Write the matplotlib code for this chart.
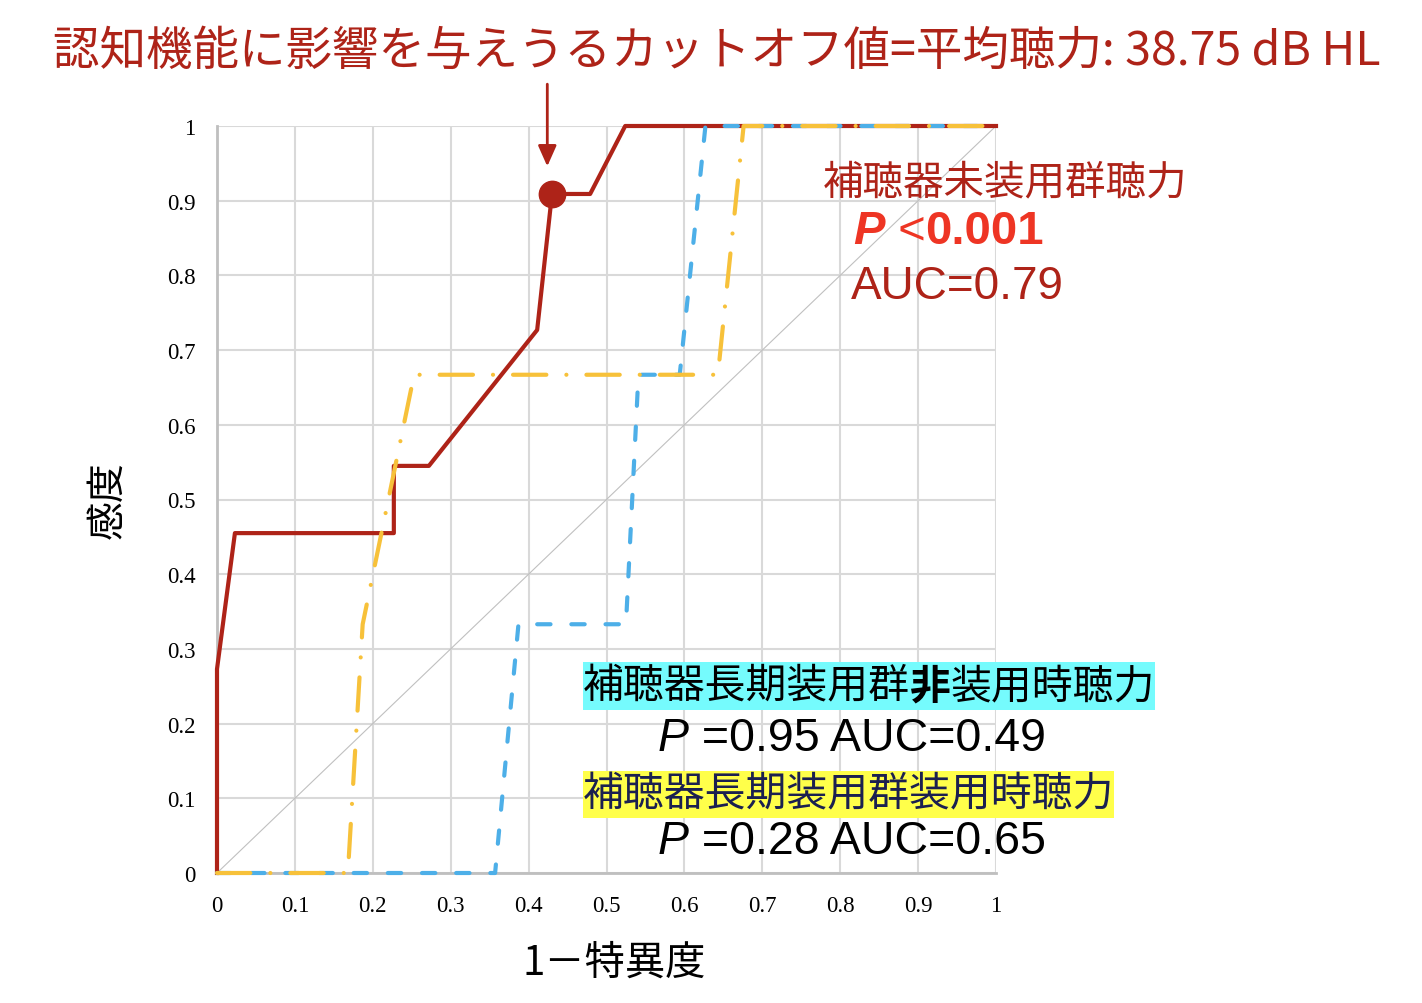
import matplotlib
matplotlib.use("Agg")
import matplotlib.pyplot as plt
from matplotlib.patches import Rectangle

# ROC data (1 - specificity, sensitivity)
fpr_unaided = [0, 0, 0.023, 0.227, 0.227, 0.272, 0.411, 0.430, 0.479, 0.524, 1]
tpr_unaided = [0, 0.273, 0.455, 0.455, 0.545, 0.545, 0.727, 0.909, 0.909, 1, 1]
fpr_off = [0, 0.357, 0.387, 0.525, 0.541, 0.594, 0.627, 1]
tpr_off = [0, 0, 0.333, 0.333, 0.667, 0.667, 1, 1]
fpr_on = [0, 0.168, 0.187, 0.253, 0.643, 0.676, 1]
tpr_on = [0, 0, 0.333, 0.667, 0.667, 1, 1]
cutoff = (0.430, 0.909)

ticks = [0, 0.1, 0.2, 0.3, 0.4, 0.5, 0.6, 0.7, 0.8, 0.9, 1]
tick_labels = ["0", "0.1", "0.2", "0.3", "0.4", "0.5", "0.6", "0.7", "0.8", "0.9", "1"]

RED = "#AE2318"
BRIGHT = "#EE3524"
BLUE = "#4DAFE8"
YELLOW = "#F7C13A"
JP = ["Noto Sans CJK JP", "DejaVu Sans"]
LAT = "Liberation Sans"

plt.rcParams["font.family"] = JP

W, H = 1422, 1004
fig = plt.figure(figsize=(W / 100, H / 100), dpi=100)
ax = fig.add_axes([217 / W, 1 - 874 / H, (996 - 217) / W, (874 - 127) / H])

ax.set_xlim(0, 1)
ax.set_ylim(0, 1)
ax.set_xticks(ticks)
ax.set_yticks(ticks)
ax.set_xticklabels(tick_labels, family="Liberation Serif", fontsize=16.5)
ax.set_yticklabels(tick_labels, family="Liberation Serif", fontsize=16.5)
ax.tick_params(length=0, pad=15.5)
ax.grid(True, color="#D9D9D9", lw=1.5)
ax.set_axisbelow(True)
for s in ["top", "right"]:
    ax.spines[s].set_visible(False)
for s in ["left", "bottom"]:
    ax.spines[s].set_color("#BFBFBF")
    ax.spines[s].set_linewidth(2)

# reference diagonal
ax.plot([0, 1], [0, 1], color="#C0C0C0", lw=0.8, zorder=2)

ax.plot(fpr_unaided, tpr_unaided, color=RED, lw=3, zorder=3, clip_on=False)
l_off, = ax.plot(fpr_off, tpr_off, color=BLUE, lw=3, zorder=4, clip_on=False,
                 dash_capstyle="round")
l_off.set_dashes((3.2, 5.0))
l_on, = ax.plot(fpr_on, tpr_on, color=YELLOW, lw=3, zorder=5, clip_on=False,
                dash_capstyle="round")
l_on.set_dashes((8, 4.8, 0.01, 4.8))

ax.plot(cutoff[0], cutoff[1], "o", color=RED, ms=19, zorder=6, clip_on=False)
ax.annotate("", xy=(cutoff[0] - 0.006, 0.946), xytext=(cutoff[0] - 0.006, 1.056),
            arrowprops=dict(arrowstyle="-|>,head_length=0.9,head_width=0.4",
                            color=RED, lw=2, mutation_scale=14, shrinkA=0, shrinkB=0),
            annotation_clip=False)

ax.set_xlabel("1－特異度", fontsize=29, labelpad=19)
ax.xaxis.label.set_x(0.51)
ax.set_ylabel("感度", fontsize=28, labelpad=28)

fig.text(0.504, 1 - 52 / H, "認知機能に影響を与えうるカットオフ値=平均聴力: 38.75 dB HL",
         color=RED, fontsize=33.5, ha="center", va="center")

renderer = fig.canvas.get_renderer()


def text_run(x_px, y_px, pieces, bg=None, **common):
    # place pieces one after another, return their pixel extent
    x = x_px
    arts = []
    for s, kw in pieces:
        opts = dict(common)
        opts.update(kw)
        t = fig.text(x / W, 1 - y_px / H, s, va="center", ha="left", zorder=5, **opts)
        bb = t.get_window_extent(renderer)
        x += bb.width
        arts.append(t)
    if bg is not None:
        y0 = min(a.get_window_extent(renderer).y0 for a in arts) - 3
        y1 = max(a.get_window_extent(renderer).y1 for a in arts) + 3
        fig.add_artist(Rectangle((x_px / W, y0 / H), (x - x_px) / W, (y1 - y0) / H,
                                 transform=fig.transFigure, facecolor=bg,
                                 edgecolor="none", zorder=4))
    return x


text_run(823, 183, [("補聴器未装用群聴力", {})], color=RED, fontsize=29.2)
text_run(853, 232, [("P", dict(style="italic", weight="bold")),
                    (" <", {}),
                    ("0.001", dict(weight="bold"))],
         color=BRIGHT, fontsize=34, family=LAT)
text_run(851, 287, [("AUC=0.79", {})], color=RED, fontsize=33, family=LAT)

text_run(583, 687, [("補聴器長期装用群", {}), ("非", dict(weight="bold")),
                    ("装用時聴力", {})], bg="#75FBFD", color="black", fontsize=29.4)
text_run(658, 739, [("P", dict(style="italic")), (" =0.95 AUC=0.49", {})],
         color="black", fontsize=33.5, family=LAT)
text_run(583, 795, [("補聴器長期装用群装用時聴力", {})], bg="#FFFF4A",
         color="#1B2050", fontsize=29.4)
text_run(658, 842, [("P", dict(style="italic")), (" =0.28 AUC=0.65", {})],
         color="black", fontsize=33.5, family=LAT)

fig.savefig("out.png", dpi=100)
